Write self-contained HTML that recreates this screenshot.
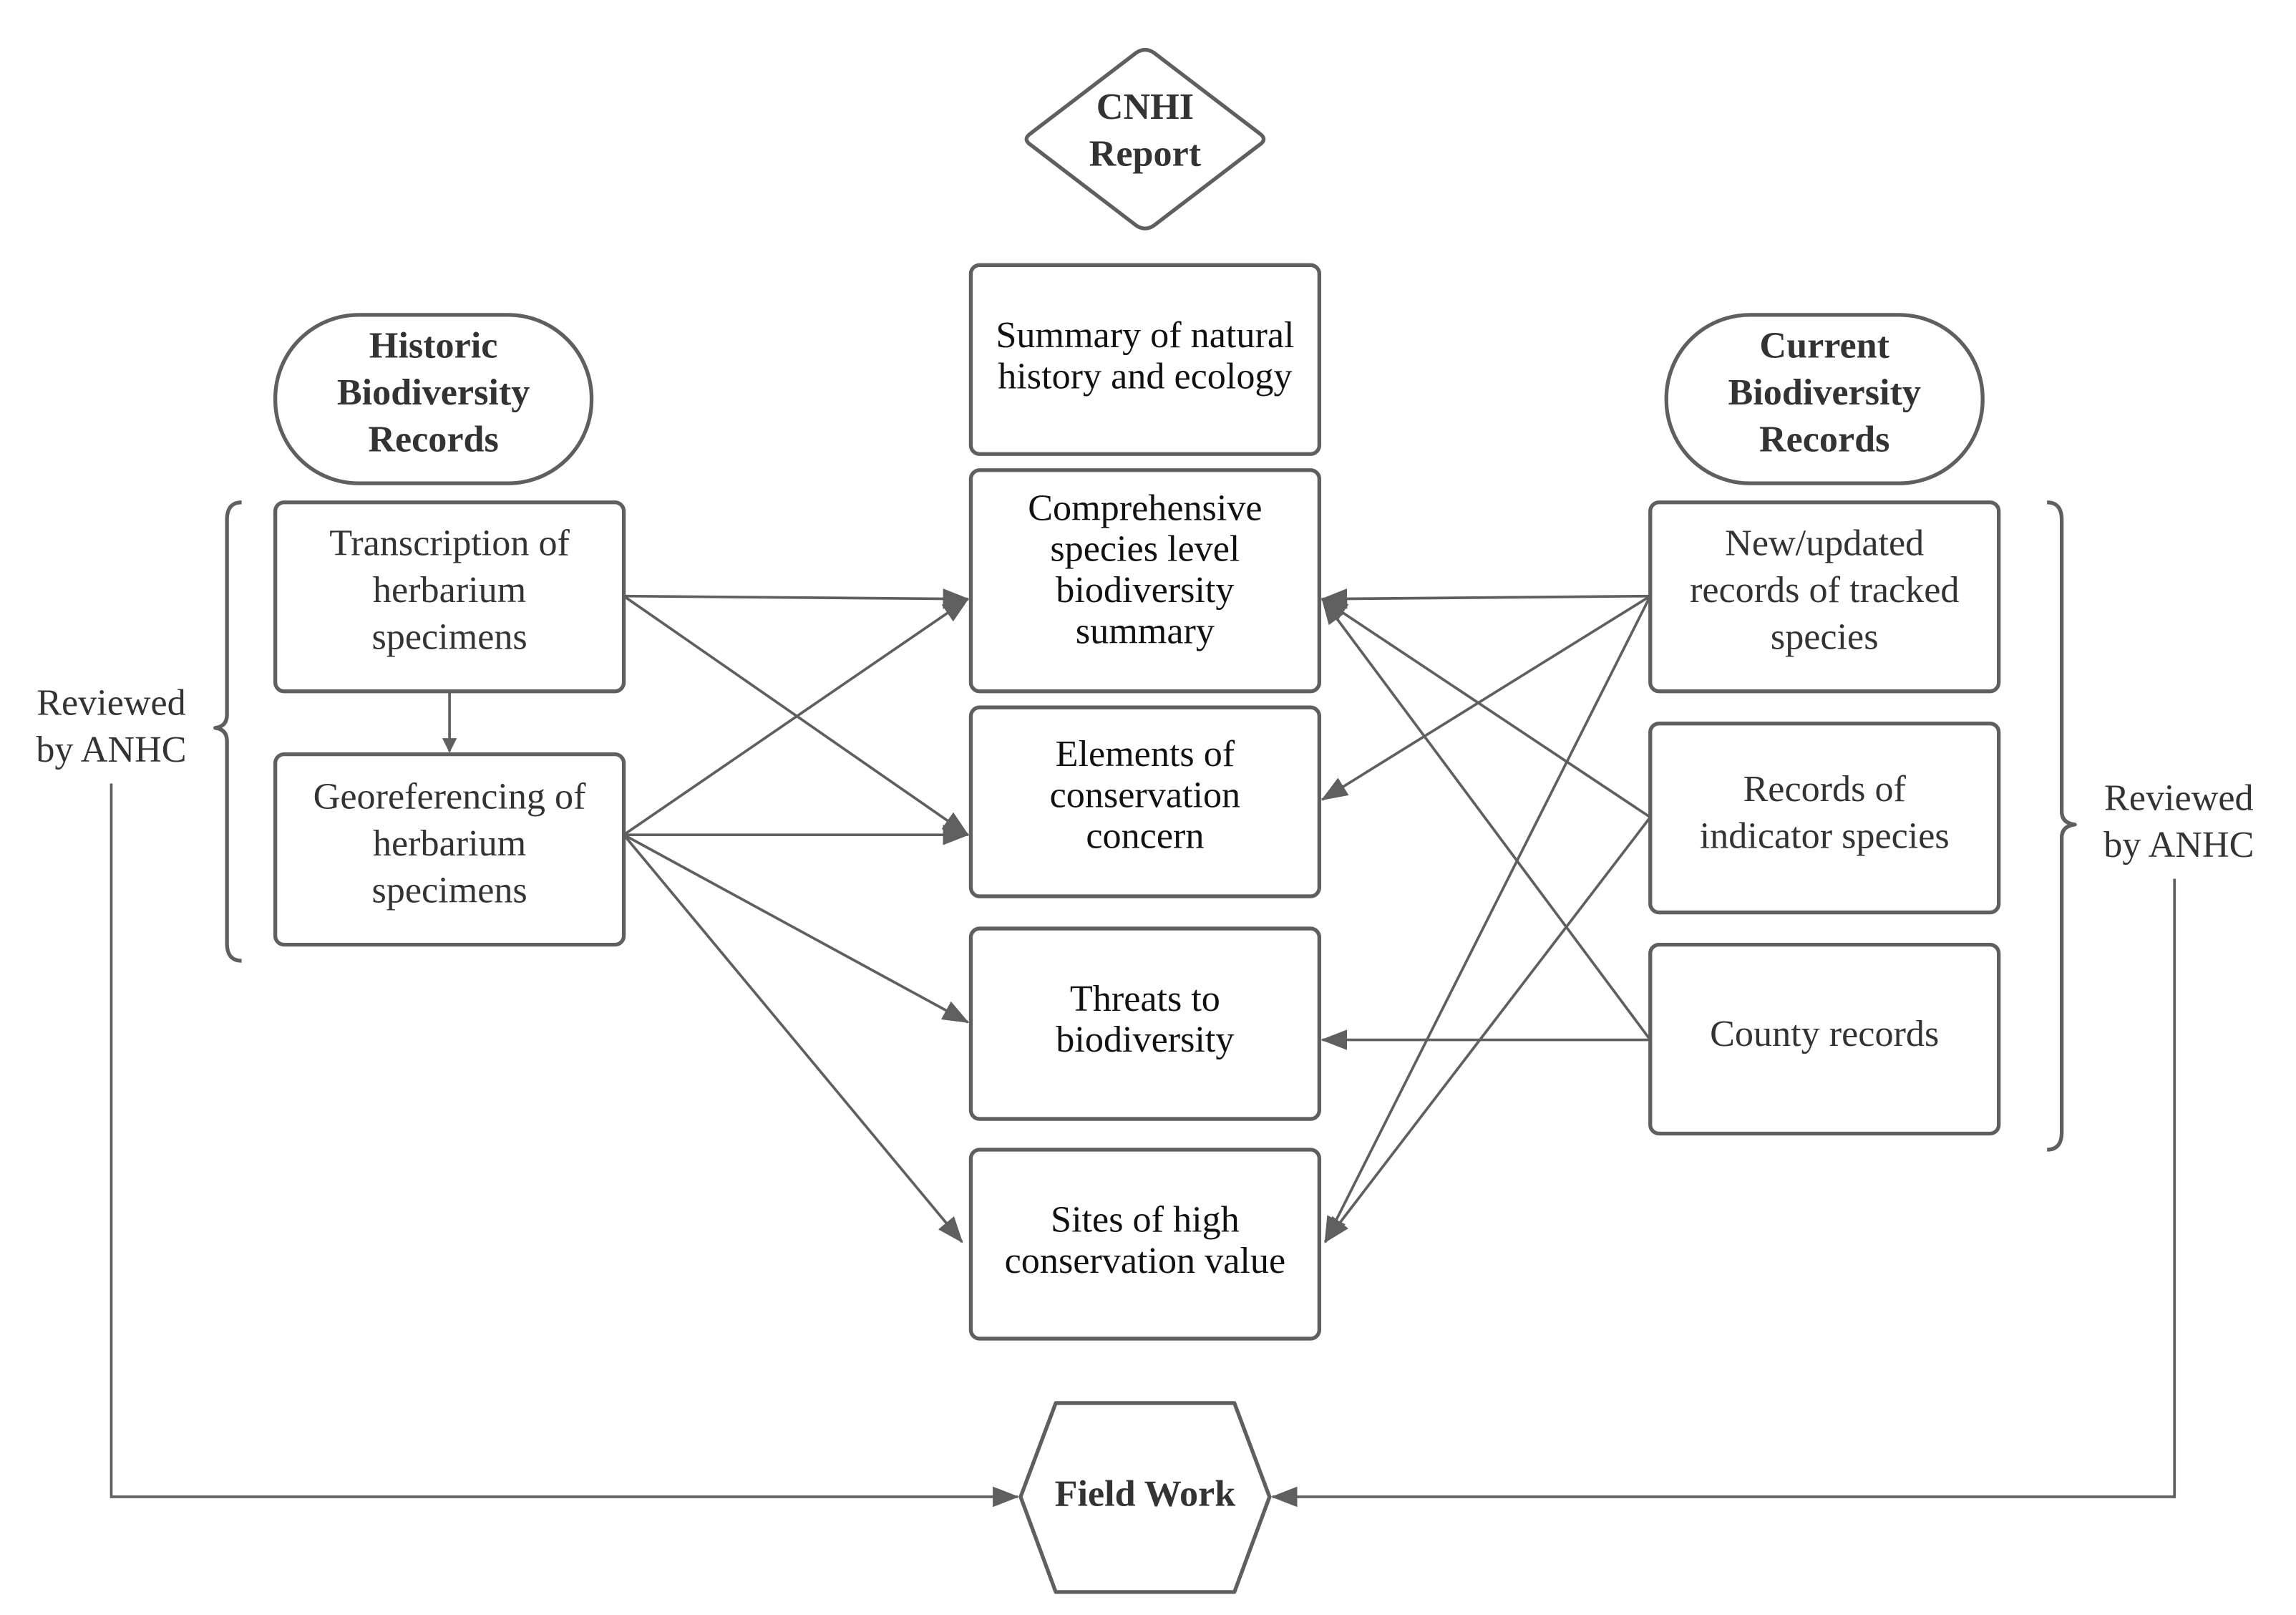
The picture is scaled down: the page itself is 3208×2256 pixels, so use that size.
<!DOCTYPE html>
<html><head><meta charset="utf-8"><style>html,body{margin:0;padding:0;background:#fff}svg{display:block}</style></head>
<body>
<svg width="3208" height="2256" viewBox="0 0 1568 1102.7" preserveAspectRatio="none" xmlns="http://www.w3.org/2000/svg">
<defs>
<marker id="a" markerWidth="10" markerHeight="10" refX="9" refY="5" orient="auto" markerUnits="userSpaceOnUse" viewBox="0 0 10 10">
<path d="M0,0 L10,5 L0,10 z" fill="#5f5f5f"/></marker>
<marker id="b" markerWidth="18" markerHeight="14" refX="17" refY="7" orient="auto" markerUnits="userSpaceOnUse" viewBox="0 0 18 14">
<path d="M0,0 L18,7 L0,14 z" fill="#5f5f5f"/></marker>
</defs>
<g fill="none" stroke="#5f5f5f" stroke-width="2.6" stroke-linejoin="round">
<path d="M704,91 L776,36 Q782,32 788,36 L860,91 Q866,95 860,99 L788,154 Q782,158 776,154 L704,99 Q698,95 704,91 Z"/>
<rect x="663" y="181" width="238" height="129" rx="6"/>
<rect x="663" y="321" width="238" height="151" rx="6"/>
<rect x="663" y="483" width="238" height="129" rx="6"/>
<rect x="663" y="634" width="238" height="130" rx="6"/>
<rect x="663" y="785" width="238" height="129" rx="6"/>
<rect x="188" y="215" width="216" height="115" rx="57"/>
<rect x="1138" y="215" width="216" height="115" rx="57"/>
<rect x="188" y="343" width="238" height="129" rx="6"/>
<rect x="188" y="515" width="238" height="130" rx="6"/>
<rect x="1127" y="343" width="238" height="129" rx="6"/>
<rect x="1127" y="494" width="238" height="129" rx="6"/>
<rect x="1127" y="645" width="238" height="129" rx="6"/>
<path d="M697,1022 L721,958 L843,958 L867,1022 L843,1087 L721,1087 Z"/>
<path d="M165,343 Q155,343 155,355 L155,488 Q155,496 147,497 Q155,498 155,506 L155,644 Q155,656 165,656"/>
<path d="M1398,343 Q1408,343 1408,355 L1408,554 Q1408,562 1417,563 Q1408,564 1408,572 L1408,773 Q1408,785 1398,785"/>
</g>
<g fill="none" stroke="#5f5f5f" stroke-width="1.8">
<path d="M76,535 L76,1022 L695,1022" marker-end="url(#b)"/>
<path d="M1485,600 L1485,1022 L869,1022" marker-end="url(#b)"/>
<path d="M307,472 L307,513" marker-end="url(#a)"/>
<path d="M426,407 L661,409" marker-end="url(#b)"/>
<path d="M426,407 L661,570" marker-end="url(#b)"/>
<path d="M426,570 L661,409" marker-end="url(#b)"/>
<path d="M426,570 L661,570" marker-end="url(#b)"/>
<path d="M426,570 L661,698" marker-end="url(#b)"/>
<path d="M426,570 L657,848" marker-end="url(#b)"/>
<path d="M1127,407 L903,409" marker-end="url(#b)"/>
<path d="M1127,407 L903,546" marker-end="url(#b)"/>
<path d="M1127,407 L905,848" marker-end="url(#b)"/>
<path d="M1127,558 L903,409" marker-end="url(#b)"/>
<path d="M1127,558 L905,848" marker-end="url(#b)"/>
<path d="M1127,710 L903,409" marker-end="url(#b)"/>
<path d="M1127,710 L903,710" marker-end="url(#b)"/>
</g>
<g font-family="Liberation Serif, serif" font-size="25.5" text-anchor="middle" dominant-baseline="central">
<g fill="#333" font-weight="bold">
<text x="782" y="73">CNHI</text><text x="782" y="105">Report</text>
<text x="296" y="236">Historic</text><text x="296" y="268">Biodiversity</text><text x="296" y="300">Records</text>
<text x="1246" y="236">Current</text><text x="1246" y="268">Biodiversity</text><text x="1246" y="300">Records</text>
<text x="782" y="1020">Field Work</text>
</g>
<g fill="#111">
<text x="782" y="229">Summary of natural</text><text x="782" y="257">history and ecology</text>
<text x="782" y="347">Comprehensive</text><text x="782" y="375">species level</text><text x="782" y="403">biodiversity</text><text x="782" y="431">summary</text>
<text x="782" y="515">Elements of</text><text x="782" y="543">conservation</text><text x="782" y="571">concern</text>
<text x="782" y="682">Threats to</text><text x="782" y="710">biodiversity</text>
<text x="782" y="833">Sites of high</text><text x="782" y="861">conservation value</text>
</g>
<g fill="#333">
<text x="307" y="371">Transcription of</text><text x="307" y="403">herbarium</text><text x="307" y="435">specimens</text>
<text x="307" y="544">Georeferencing of</text><text x="307" y="576">herbarium</text><text x="307" y="608">specimens</text>
<text x="1246" y="371">New/updated</text><text x="1246" y="403">records of tracked</text><text x="1246" y="435">species</text>
<text x="1246" y="539">Records of</text><text x="1246" y="571">indicator species</text>
<text x="1246" y="706">County records</text>
<text x="76" y="480">Reviewed</text><text x="76" y="512">by ANHC</text>
<text x="1488" y="545">Reviewed</text><text x="1488" y="577">by ANHC</text>
</g>
</g>
</svg>
</body></html>
